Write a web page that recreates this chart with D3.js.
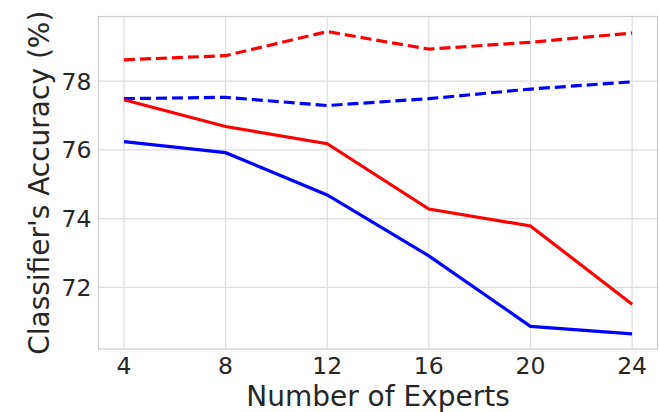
<!DOCTYPE html>
<html>
<head>
<meta charset="utf-8">
<script src="https://cdn.jsdelivr.net/npm/d3@7"></script>
<style>
  body { margin: 0; background: #fff; }
  svg text { font-family: "DejaVu Sans", sans-serif; fill: #262626; }
</style>
</head>
<body>
<div id="chart"></div>
<script>
// Data
var experts = [4, 8, 12, 16, 20, 24];
var redDashed  = [78.62, 78.74, 79.44, 78.93, 79.13, 79.40];
var blueDashed = [77.49, 77.53, 77.29, 77.49, 77.77, 77.98];
var redSolid   = [77.46, 76.68, 76.18, 74.28, 73.79, 71.51];
var blueSolid  = [76.24, 75.92, 74.69, 72.92, 70.87, 70.65];
var xTicks = [4, 8, 12, 16, 20, 24];
var yTicks = [72, 74, 76, 78];

var series = [
  {values: redDashed,  color: "#ff0000", dash: "11,5"},
  {values: blueDashed, color: "#0000ff", dash: "11,5"},
  {values: redSolid,   color: "#ff0000", dash: null},
  {values: blueSolid,  color: "#0000ff", dash: null}
];

var width = 659, height = 412;
var margin = {top: 16.5, right: 1.5, bottom: 63, left: 98.5};
var w = width - margin.left - margin.right,
    h = height - margin.top - margin.bottom;

var svg = d3.select("#chart").append("svg")
    .attr("width", width)
    .attr("height", height);

var g = svg.append("g")
    .attr("transform", "translate(" + margin.left + "," + margin.top + ")");

// matplotlib style 5% padding
var all = [].concat(redDashed, blueDashed, redSolid, blueSolid);
var ymin = d3.min(all), ymax = d3.max(all), pad = (ymax - ymin) * 0.05;

var x = d3.scaleLinear().domain([3, 25]).range([0, w]);
var y = d3.scaleLinear().domain([ymin - pad, ymax + pad]).range([h, 0]);

// grid
g.append("g").selectAll("line")
  .data(xTicks).enter().append("line")
  .attr("x1", function(d) { return x(d); })
  .attr("x2", function(d) { return x(d); })
  .attr("y1", 0).attr("y2", h)
  .attr("stroke", "#dddddd").attr("stroke-width", 1.2);

g.append("g").selectAll("line")
  .data(yTicks).enter().append("line")
  .attr("y1", function(d) { return y(d); })
  .attr("y2", function(d) { return y(d); })
  .attr("x1", 0).attr("x2", w)
  .attr("stroke", "#dddddd").attr("stroke-width", 1.2);

// frame
g.append("rect")
  .attr("x", 0).attr("y", 0)
  .attr("width", w).attr("height", h)
  .attr("fill", "none")
  .attr("stroke", "#cccccc").attr("stroke-width", 1.2);

// lines
var line = d3.line()
  .x(function(d, i) { return x(experts[i]); })
  .y(function(d) { return y(d); });

g.selectAll(".series")
  .data(series).enter().append("path")
  .attr("class", "series")
  .attr("d", function(d) { return line(d.values); })
  .attr("fill", "none")
  .attr("stroke", function(d) { return d.color; })
  .attr("stroke-width", 3.2)
  .attr("stroke-dasharray", function(d) { return d.dash; });

// tick labels
g.append("g").selectAll("text")
  .data(xTicks).enter().append("text")
  .attr("x", function(d) { return x(d); })
  .attr("y", h + 25)
  .attr("text-anchor", "middle")
  .style("font-size", "23.5px")
  .text(function(d) { return d; });

g.append("g").selectAll("text")
  .data(yTicks).enter().append("text")
  .attr("x", -7)
  .attr("y", function(d) { return y(d); })
  .attr("dy", "0.36em")
  .attr("text-anchor", "end")
  .style("font-size", "23.5px")
  .text(function(d) { return d; });

// axis titles
svg.append("text")
  .attr("x", margin.left + w / 2)
  .attr("y", 405.5)
  .attr("text-anchor", "middle")
  .style("font-size", "28px")
  .text("Number of Experts");

svg.append("text")
  .attr("transform", "translate(49," + (margin.top + h / 2) + ") rotate(-90)")
  .attr("text-anchor", "middle")
  .style("font-size", "28px")
  .text("Classifier's Accuracy (%)");
</script>
</body>
</html>
